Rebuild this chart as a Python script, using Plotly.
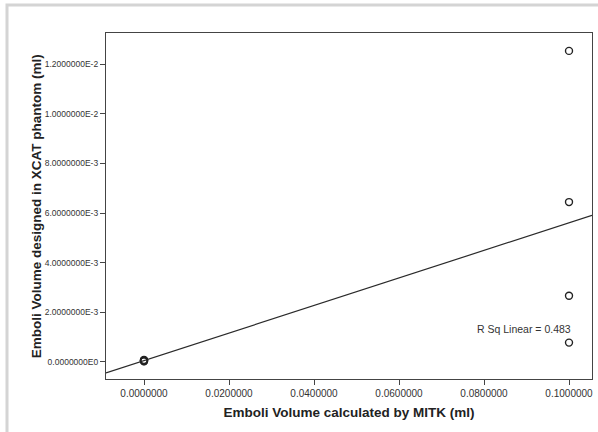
import numpy as np
import plotly.graph_objects as go

# Emboli volume: MITK measurement (x) vs. volume designed in the XCAT phantom (y), ml
mitk_volume = [0.0, 0.0, 0.0, 0.0, 0.0, 0.0, 0.1, 0.1, 0.1, 0.1]
xcat_volume = [0.00003, 0.00004, 0.00005, 0.00006, 0.00007, 0.00008,
               0.01253, 0.00644, 0.00267, 0.00078]

x_tick_vals = [0.0, 0.02, 0.04, 0.06, 0.08, 0.10]
x_tick_text = ["0.0000000", "0.0200000", "0.0400000", "0.0600000", "0.0800000", "0.1000000"]
y_tick_vals = [0.0, 0.002, 0.004, 0.006, 0.008, 0.010, 0.012]
y_tick_text = ["0.0000000E0", "2.0000000E-3", "4.0000000E-3", "6.0000000E-3",
               "8.0000000E-3", "1.0000000E-2", "1.2000000E-2"]
r_sq_label = "R Sq Linear = 0.483"

x_range = [-0.00894, 0.10541]
y_range = [-0.000685, 0.01325]

# least-squares fit line across the full x range
slope, intercept = np.polyfit(mitk_volume, xcat_volume, 1)
fit_x = np.array(x_range)
fit_y = slope * fit_x + intercept

fig = go.Figure()
fig.add_trace(go.Scatter(
    x=fit_x, y=fit_y, mode="lines",
    line=dict(color="#2a2a2a", width=1.2),
    hoverinfo="skip", showlegend=False,
))
fig.add_trace(go.Scatter(
    x=mitk_volume, y=xcat_volume, mode="markers",
    marker=dict(symbol="circle-open", size=7, color="#222222", line=dict(width=1.4)),
    showlegend=False,
))

fig.add_annotation(
    x=0.1, y=0.00133, xref="x", yref="y", text=r_sq_label, showarrow=False,
    xanchor="right", yanchor="middle", xshift=4,
    font=dict(family="Arial, Liberation Sans, sans-serif", size=10.5, color="#333333"),
)

# vertical axis title placed by hand next to the compact tick labels
fig.add_annotation(
    x=-0.1435, y=0.5, xref="paper", yref="paper", textangle=-90,
    text="<b>Emboli Volume designed in XCAT phantom (ml)</b>", showarrow=False,
    xanchor="center", yanchor="middle",
    font=dict(family="Arial, Liberation Sans, sans-serif", size=13.5, color="#222222"),
)

x_tick_font = dict(family="Arial, Liberation Sans, sans-serif", size=10, color="#333333")
y_tick_font = dict(family="Arial, Liberation Sans, sans-serif", size=8.5, color="#333333")
title_font = dict(family="Arial, Liberation Sans, sans-serif", size=13.5, color="#222222")

fig.update_xaxes(
    range=x_range, tickvals=x_tick_vals, ticktext=x_tick_text,
    ticks="outside", ticklen=5, tickcolor="#444444", tickwidth=1,
    showgrid=False, zeroline=False,
    showline=True, linecolor="#444444", linewidth=1.2, mirror=True,
    tickfont=x_tick_font,
    title=dict(text="<b>Emboli Volume calculated by MITK (ml)</b>", font=title_font, standoff=9),
)
fig.update_yaxes(
    range=y_range, tickvals=y_tick_vals, ticktext=y_tick_text,
    ticks="outside", ticklen=5, tickcolor="#444444", tickwidth=1,
    showgrid=False, zeroline=False,
    showline=True, linecolor="#444444", linewidth=1.2, mirror=True,
    tickfont=y_tick_font,
)

# light grey outer frame around the chart panel
fig.add_shape(
    type="rect", xref="paper", yref="paper",
    x0=-0.2037, x1=1.05, y0=-0.2, y1=1.0809,
    line=dict(color="#d4d4d4", width=3), fillcolor="rgba(0,0,0,0)", layer="below",
)

fig.update_layout(
    width=598, height=432,
    margin=dict(l=106, r=6, t=33, b=53),
    paper_bgcolor="white", plot_bgcolor="white",
)

fig.write_html("out.html")
